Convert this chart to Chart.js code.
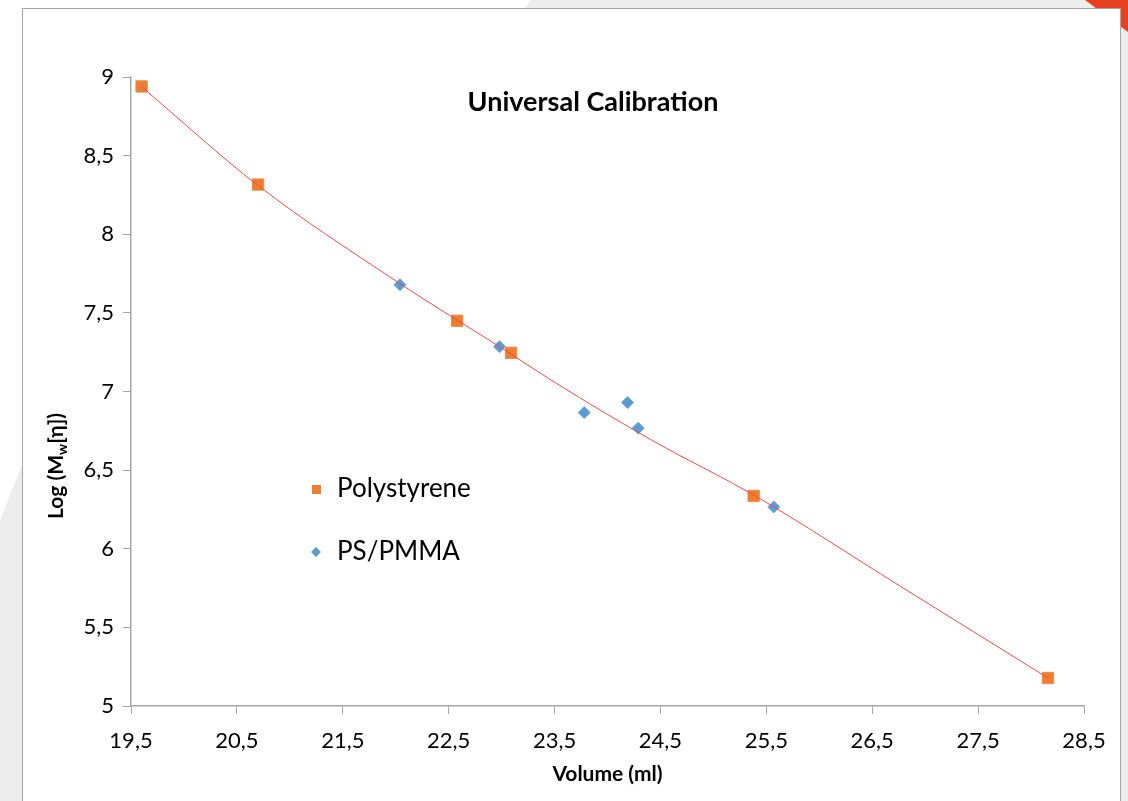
<!DOCTYPE html>
<html>
<head>
<meta charset="utf-8">
<title>Universal Calibration</title>
<script src="https://cdn.jsdelivr.net/npm/chart.js@4.4.1/dist/chart.umd.min.js"></script>
<style>
  html, body { margin: 0; padding: 0; background: #fff; }
  body { width: 1128px; height: 801px; position: relative; overflow: hidden; font-family: Lato, sans-serif; }
  .shape { position: absolute; left: 0; top: 0; width: 1128px; height: 801px; }
  #gray { background: #ededed; clip-path: polygon(531px 0, 1128px 0, 1128px 801px, 0 801px, 0 520px, 22px 465px, 525px 8px); }
  #red { background: #e5401f; clip-path: polygon(1085px 0, 1128px 0, 1128px 32px); }
  #frame { position: absolute; left: 22px; top: 8px; width: 1099px; height: 820px; background: #fff; border: 1.5px solid #a5a5a5; box-sizing: border-box; }
  #chart { position: absolute; left: 0; top: 0; }
</style>
</head>
<body>
<div class="shape" id="gray"></div>
<div class="shape" id="red"></div>
<div id="frame"></div>
<canvas id="chart" width="1128" height="801"></canvas>
<script>
// data
var volumePS = [19.6, 20.7, 22.58, 23.09, 25.38, 28.16];
var logPS = [8.94, 8.316, 7.45, 7.246, 6.336, 5.178];
var volumePMMA = [22.04, 22.98, 23.78, 24.19, 24.29, 25.57];
var logPMMA = [7.679, 7.285, 6.866, 6.93, 6.767, 6.266];
// trend line, sampled along the drawn curve
var fitVolume = [19.6, 20.7, 22.04, 22.98, 23.5, 24.44, 25.38, 26.76, 28.16];
var fitLog = [8.938, 8.31, 7.686, 7.285, 7.059, 6.682, 6.342, 5.764, 5.178];
var xTicks = [19.5, 20.5, 21.5, 22.5, 23.5, 24.5, 25.5, 26.5, 27.5, 28.5];
var yTicks = [5, 5.5, 6, 6.5, 7, 7.5, 8, 8.5, 9];
var seriesNames = ['Polystyrene', 'PS/PMMA'];

function pairs(xs, ys) {
    return xs.map(function(x, i) { return {x: x, y: ys[i]}; });
}

function comma(v) {
    return String(v).replace('.', ',');
}

var axisColor = '#a6a6a6';

// title, legend and y-axis title (has a subscript) drawn on top
var overlay = {
    id: 'overlay',
    afterDraw: function(chart) {
        var ctx = chart.ctx;
        var area = chart.chartArea;
        ctx.save();
        ctx.fillStyle = '#000';

        // chart title
        ctx.font = 'bold 27px Lato';
        ctx.textAlign = 'center';
        ctx.textBaseline = 'middle';
        ctx.fillText('Universal Calibration', area.left + 462, area.top + 25);

        // legend
        var lx = area.left + 185, ly = [area.top + 412, area.top + 475];
        var ds = chart.data.datasets;
        ctx.textAlign = 'left';
        ctx.font = '26px Lato';
        ctx.fillStyle = ds[1].backgroundColor;
        ctx.fillRect(lx - 4, ly[0] - 4, 9, 9);
        ctx.fillStyle = ds[2].backgroundColor;
        ctx.beginPath();
        ctx.moveTo(lx, ly[1] - 5);
        ctx.lineTo(lx + 5, ly[1]);
        ctx.lineTo(lx, ly[1] + 5);
        ctx.lineTo(lx - 5, ly[1]);
        ctx.closePath();
        ctx.fill();
        ctx.fillStyle = '#000';
        ctx.fillText(seriesNames[0], lx + 21, ly[0]);
        ctx.fillText(seriesNames[1], lx + 21, ly[1]);

        // y axis title: Log (Mw[η])
        ctx.translate(56, 466);
        ctx.rotate(-Math.PI / 2);
        var parts = [['Log (M', 'bold 21px Lato', 7], ['w', 'bold 14px Lato', 11], ['[η])', 'bold 21px Lato', 7]];
        var total = 0;
        parts.forEach(function(p) { ctx.font = p[1]; total += ctx.measureText(p[0]).width; });
        var x = -total / 2;
        ctx.textBaseline = 'alphabetic';
        parts.forEach(function(p) {
            ctx.font = p[1];
            ctx.fillText(p[0], x, p[2]);
            x += ctx.measureText(p[0]).width;
        });
        ctx.restore();
    }
};

new Chart(document.getElementById('chart'), {
    type: 'scatter',
    data: {
        datasets: [{
            type: 'line',
            label: 'fit',
            data: pairs(fitVolume, fitLog),
            borderColor: '#f24a4a',
            borderWidth: 1,
            pointRadius: 0,
            cubicInterpolationMode: 'monotone',
            fill: false,
            order: 0
        }, {
            label: seriesNames[0],
            data: pairs(volumePS, logPS),
            pointStyle: 'rect',
            pointRadius: 8,
            pointHoverRadius: 8,
            backgroundColor: '#ed7d31',
            borderColor: '#f08a45',
            borderWidth: 1,
            order: 1
        }, {
            label: seriesNames[1],
            data: pairs(volumePMMA, logPMMA),
            pointStyle: 'rectRot',
            pointRadius: 6,
            pointHoverRadius: 6,
            backgroundColor: '#5b9bd5',
            borderColor: '#6aa5da',
            borderWidth: 1,
            order: 1
        }]
    },
    options: {
        responsive: false,
        animation: false,
        devicePixelRatio: 1,
        layout: {padding: {left: 0, right: 44, top: 77, bottom: 0}},
        plugins: {
            legend: {display: false},
            tooltip: {enabled: false}
        },
        scales: {
            x: {
                type: 'linear',
                min: 19.5,
                max: 28.5,
                afterBuildTicks: function(s) { s.ticks = xTicks.map(function(v) { return {value: v}; }); },
                afterFit: function(s) { s.height = 95; },
                grid: {drawOnChartArea: false, color: axisColor, tickLength: 8},
                border: {color: axisColor, width: 1.5},
                ticks: {
                    color: '#000',
                    padding: 14,
                    maxRotation: 0,
                    font: {family: 'Lato', size: 22},
                    callback: function(v) { return comma(v); }
                },
                title: {
                    display: true,
                    text: 'Volume (ml)',
                    color: '#000',
                    font: {family: 'Lato', size: 21, weight: 'bold'},
                    padding: {top: 0, bottom: 14}
                }
            },
            y: {
                type: 'linear',
                min: 5,
                max: 9,
                afterBuildTicks: function(s) { s.ticks = yTicks.map(function(v) { return {value: v}; }); },
                afterFit: function(s) { s.width = 131; },
                grid: {drawOnChartArea: false, color: axisColor, tickLength: 8},
                border: {color: axisColor, width: 1.5},
                ticks: {
                    color: '#000',
                    padding: 9,
                    font: {family: 'Lato', size: 22},
                    callback: function(v) { return comma(v); }
                }
            }
        }
    },
    plugins: [overlay]
});
</script>
</body>
</html>
